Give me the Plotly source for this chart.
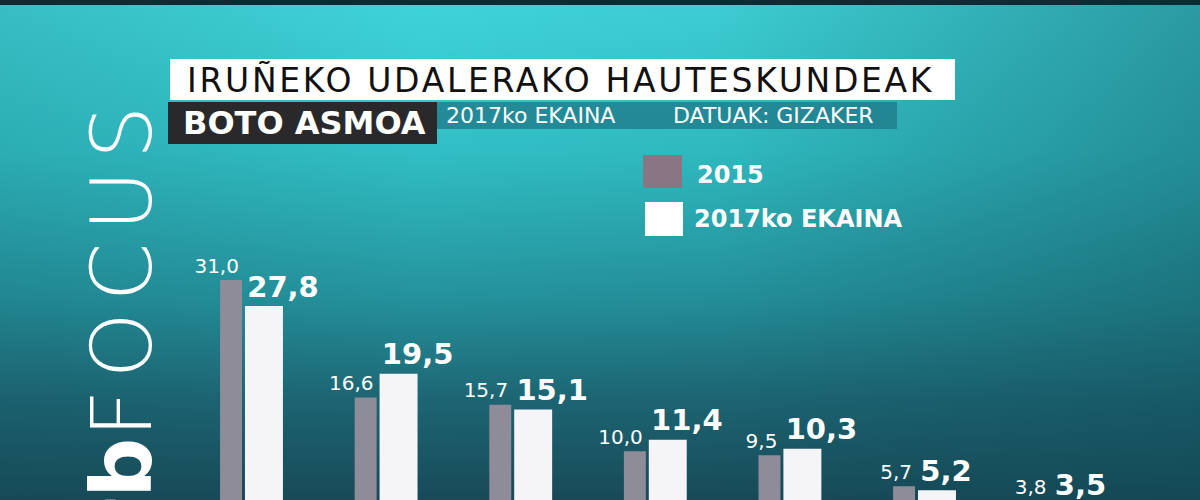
import base64
import plotly.graph_objects as go

# ---------------- data ----------------
groups = [0, 1, 2, 3, 4, 5, 6]
vals_2015 = [31.0, 16.6, 15.7, 10.0, 9.5, 5.7, 3.8]
vals_2017 = [27.8, 19.5, 15.1, 11.4, 10.3, 5.2, 3.5]
labels_2015 = ["31,0", "16,6", "15,7", "10,0", "9,5", "5,7", "3,8"]
labels_2017 = ["27,8", "19,5", "15,1", "11,4", "10,3", "5,2", "3,5"]
series_names = ["2015", "2017ko EKAINA"]
title_text = "IRUÑEKO UDALERAKO HAUTESKUNDEAK"
subtitle_text = "BOTO ASMOA"
date_text = "2017ko EKAINA"
source_text = "DATUAK: GIZAKER"

# ---------------- styling ----------------
FONT = "DejaVu Sans"
GRAY = "#8f8c99"
WHITE = "#f5f5f7"
G_OFF, G_W = -0.230, 0.163
W_OFF, W_W = -0.045, 0.282

svg = """<svg xmlns='http://www.w3.org/2000/svg' width='1200' height='500' viewBox='0 0 1200 500' preserveAspectRatio='none'>
<defs>
<linearGradient id='v' x1='0' y1='0' x2='0' y2='1'>
<stop offset='0' stop-color='#3fd4d9'/>
<stop offset='0.3' stop-color='#31bfc5'/>
<stop offset='0.6' stop-color='#24919b'/>
<stop offset='0.8' stop-color='#1d6573'/>
<stop offset='1' stop-color='#184a58'/>
</linearGradient>
<linearGradient id='h' x1='0' y1='0' x2='1' y2='0'>
<stop offset='0' stop-color='#0e4652' stop-opacity='0.15'/>
<stop offset='0.35' stop-color='#0e4652' stop-opacity='0'/>
<stop offset='0.6' stop-color='#0e4652' stop-opacity='0.05'/>
<stop offset='1' stop-color='#0e4652' stop-opacity='0.4'/>
</linearGradient>
</defs>
<rect x='0' y='0' width='1200' height='500' fill='url(#v)'/>
<rect x='0' y='0' width='1200' height='500' fill='url(#h)'/>
<rect x='0' y='0' width='1200' height='5' fill='#0a2c33'/>
</svg>"""
svg_uri = "data:image/svg+xml;base64," + base64.b64encode(svg.encode()).decode()

fig = go.Figure()

fig.add_trace(go.Bar(x=groups, y=vals_2015, name=series_names[0], width=G_W, offset=G_OFF,
                     marker=dict(color=GRAY, line=dict(width=0)), showlegend=False, hoverinfo="skip"))
fig.add_trace(go.Bar(x=groups, y=vals_2017, name=series_names[1], width=W_W, offset=W_OFF,
                     marker=dict(color=WHITE, line=dict(width=0)), showlegend=False, hoverinfo="skip"))

# value labels (tiny invisible markers give a small offset from the bar top)
fig.add_trace(go.Scatter(x=[g + G_OFF + G_W - 0.006 for g in groups], y=vals_2015,
                         mode="markers+text", marker=dict(size=2, opacity=0),
                         text=labels_2015, textposition="top left", cliponaxis=True,
                         textfont=dict(family=FONT, size=20, color="white"),
                         showlegend=False, hoverinfo="skip"))
fig.add_trace(go.Scatter(x=[g + W_OFF for g in groups], y=vals_2017,
                         mode="markers+text", marker=dict(size=2, opacity=0),
                         text=["<b>%s</b>" % t for t in labels_2017], textposition="top right",
                         cliponaxis=True,
                         textfont=dict(family=FONT, size=29, color="white"),
                         showlegend=False, hoverinfo="skip"))


def py(p):
    return 1 - p / 500.0


def px(p):
    return p / 1200.0


shapes = [
    dict(type="rect", xref="paper", yref="paper", x0=px(170), x1=px(955), y0=py(100), y1=py(59),
         fillcolor="white", line=dict(width=0), layer="above"),
    dict(type="rect", xref="paper", yref="paper", x0=px(437), x1=px(897), y0=py(129), y1=py(102),
         fillcolor="rgba(30,120,135,0.75)", line=dict(width=0), layer="above"),
    dict(type="rect", xref="paper", yref="paper", x0=px(168), x1=px(437), y0=py(144), y1=py(102),
         fillcolor="#29292b", line=dict(width=0), layer="above"),
    dict(type="rect", xref="paper", yref="paper", x0=px(643), x1=px(682), y0=py(188), y1=py(155),
         fillcolor="#8a7585", line=dict(width=0), layer="above"),
    dict(type="rect", xref="paper", yref="paper", x0=px(645), x1=px(683), y0=py(236), y1=py(202),
         fillcolor="white", line=dict(width=0), layer="above"),
]

annotations = [
    dict(text="<span style='letter-spacing:2.7px'>%s</span>" % title_text, xref="paper",
         yref="paper", x=px(185), y=py(80), xanchor="left",
         yanchor="middle", showarrow=False, font=dict(family=FONT, size=33, color="#111111")),
    dict(text="<b>%s</b>" % subtitle_text, xref="paper", yref="paper", x=px(181), y=py(123),
         xanchor="left", yanchor="middle", showarrow=False,
         font=dict(family=FONT, size=32, color="white")),
    dict(text=date_text, xref="paper", yref="paper", x=px(444), y=py(116), xanchor="left",
         yanchor="middle", showarrow=False, font=dict(family=FONT, size=22, color="white")),
    dict(text=source_text, xref="paper", yref="paper", x=px(671), y=py(116), xanchor="left",
         yanchor="middle", showarrow=False, font=dict(family=FONT, size=22, color="white")),
    dict(text="<b>%s</b>" % series_names[0], xref="paper", yref="paper", x=px(695), y=py(175),
         xanchor="left", yanchor="middle", showarrow=False,
         font=dict(family=FONT, size=24, color="white")),
    dict(text="<b>%s</b>" % series_names[1], xref="paper", yref="paper", x=px(692), y=py(219),
         xanchor="left", yanchor="middle", showarrow=False,
         font=dict(family=FONT, size=24, color="white")),
    dict(text="ei<b>tb</b><span style='letter-spacing:11px'>FOCUS</span>", xref="paper",
         yref="paper", x=px(122), y=py(93),
         xanchor="center", yanchor="top", textangle=-90, showarrow=False,
         font=dict(family=FONT, size=84, color="white", weight=200)),
]

fig.update_layout(
    width=1200, height=500,
    margin=dict(l=0, r=0, t=0, b=0),
    paper_bgcolor="#1f8e98", plot_bgcolor="rgba(0,0,0,0)",
    barmode="overlay",
    xaxis=dict(range=[-1.865, 7.05], visible=False, fixedrange=True),
    yaxis=dict(range=[4.01, 65.36], visible=False, fixedrange=True),
    shapes=shapes, annotations=annotations,
    images=[dict(source=svg_uri, xref="paper", yref="paper", x=0, y=1, sizex=1, sizey=1,
                 sizing="stretch", layer="below", xanchor="left", yanchor="top")],
    showlegend=False,
)

fig.write_html("out.html", config={"displayModeBar": False},
               post_script="document.body.style.margin='0';document.body.style.overflow='hidden';")
